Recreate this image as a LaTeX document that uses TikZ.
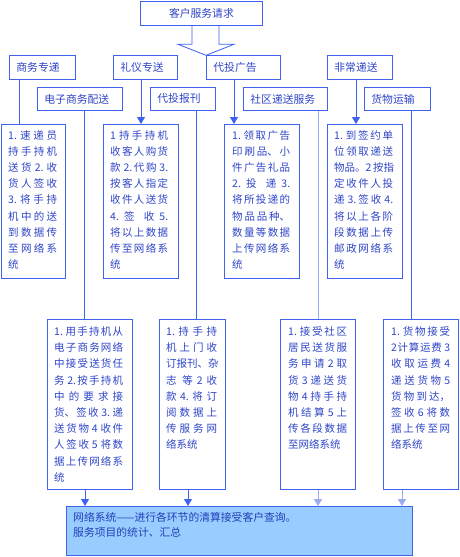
\documentclass[tikz,border=0pt]{standalone}
\usepackage{fontspec}
\setmainfont{Noto Sans CJK SC}
\usetikzlibrary{arrows.meta}
\XeTeXlinebreaklocale "zh"
\XeTeXlinebreakskip=0pt plus 4pt
\XeTeXlinebreakpenalty=10000
\tolerance=10000 \hbadness=10000 \hfuzz=30pt
\definecolor{lineblue}{HTML}{3F63F0}
\definecolor{lightline}{HTML}{99AAF0}
\definecolor{txtblue}{HTML}{2F45C8}
\definecolor{botfill}{HTML}{99CCFF}
\definecolor{bottxt}{HTML}{2040B8}
\begin{document}
\begin{tikzpicture}[x=1pt,y=-1pt,
  frame/.style={draw=lineblue, line width=0.8pt, inner sep=0pt, anchor=north west},
  lab/.style={frame, text=txtblue, font=\fontsize{10.8}{13}\selectfont, inner xsep=7pt, align=left},
  txt/.style={inner sep=0pt, anchor=north west, text=txtblue, align=justify, font=\fontsize{10.5}{16.2}\selectfont},
  conn/.style={draw=lineblue, line width=0.8pt},
  arr/.style={conn, -{Triangle[length=7pt,width=8pt]}}]
\useasboundingbox (0,0) rectangle (460,557);
\fill[white] (0,0) rectangle (460,557);
% top
\node[frame, minimum width=122, minimum height=24, text=txtblue, font=\fontsize{10.8}{13}\selectfont] (top) at (140,0.5) {客户服务请求};
\draw[conn] ([xshift=52]top.south west) -- ++(0,19) -- ++(-14,0) -- ++(28,11) -- ++(28,-11) -- ++(-15,0) -- ([xshift=79]top.south west);
% row 1
\node[lab, minimum height=24, text width=52] (n1) at (9,55) {商务专递};
\node[lab, minimum height=24, text width=50] (n2) at (113,55) {礼仪专送};
\node[lab, minimum height=24, text width=60] (n3) at (206,55) {代投广告};
\node[lab, minimum height=24, text width=51] (n4) at (327,55) {非常递送};
% row 2
\node[lab, minimum height=23, text width=71] (m1) at (37,87) {电子商务配送};
\node[lab, minimum height=23, text width=51] (m2) at (150,87) {代投报刊};
\node[lab, minimum height=23, text width=70] (m3) at (243,87) {社区递送服务};
\node[lab, minimum height=23, text width=52] (m4) at (364,87) {货物运输};
% detail boxes row 2
\node[frame, minimum width=64, minimum height=154] (b1) at (1,124) {};
\node[frame, minimum width=75, minimum height=154] (b2) at (103,124) {};
\node[frame, minimum width=75, minimum height=154] (b3) at (224,124) {};
\node[frame, minimum width=75, minimum height=154] (b4) at (327,124) {};
\node[txt, text width=49] (b1t) at ([shift={(7,6)}]b1.north west) {1.~速递员\break 持手持机\break 送货~2.~收\break 货人签收\break 3.~将手持\break 机中的送\break 到数据传\break 至网络系\break 统};
\node[txt, text width=58] (b2t) at ([shift={(7,6)}]b2.north west) {1~持手持机\break 收客人购货\break 款~2.代购~3.\break 按客人指定\break 收件人送货\break 4.~签收~5.\break 将以上数据\break 传至网络系\break 统};
\node[txt, text width=58] (b3t) at ([shift={(8,6)}]b3.north west) {1.~领取广告\break 印刷品、小\break 件广告礼品\break 2.~投递~3.\break 将所投递的\break 物品品种、\break 数量等数据\break 上传网络系\break 统};
\node[txt, text width=59] (b4t) at ([shift={(7,6)}]b4.north west) {1.~到签约单\break 位领取递送\break 物品。2~按指\break 定收件人投\break 递~3.签收~4.\break 将以上各阶\break 段数据上传\break 邮政网络系\break 统};
% detail boxes row 3
\node[frame, minimum width=85, minimum height=170] (c1) at (47,319) {};
\node[frame, minimum width=66, minimum height=170] (c2) at (159,319) {};
\node[frame, minimum width=75, minimum height=170] (c3) at (280,319) {};
\node[frame, minimum width=75, minimum height=170] (c4) at (383,319) {};
\node[txt, text width=69] (c1t) at ([shift={(7,7.5)}]c1.north west) {1.~用手持机从\break 电子商务网络\break 中接受送货任\break 务~2.按手持机\break 中的要求接\break 货、签收~3.~递\break 送货物~4~收件\break 人签收~5~将数\break 据上传网络系\break 统};
\node[txt, text width=51] (c2t) at ([shift={(7,7.5)}]c2.north west) {1.~持手持\break 机上门收\break 订报刊、杂\break 志等~2~收\break 款~4.~将订\break 阅数据上\break 传服务网\break 络系统};
\node[txt, text width=59] (c3t) at ([shift={(8,7.5)}]c3.north west) {1.~接受社区\break 居民送货服\break 务申请~2~取\break 货~3~递送货\break 物~4~持手持\break 机结算~5~上\break 传各段数据\break 至网络系统};
\node[txt, text width=59] (c4t) at ([shift={(8,7.5)}]c4.north west) {1.~货物接受\break 2计算运费~3\break 收取运费~4\break 递送货物~5\break 货物到达，\break 签收~6~将数\break 据上传至网\break 络系统};
% bottom
\node[frame, fill=botfill, minimum width=346, minimum height=49] (bot) at (66,506) {};
\node[inner sep=0pt, anchor=north west, align=left, text=bottxt, font=\fontsize{10.8}{15}\selectfont] (bott) at ([shift={(7,6.5)}]bot.north west) {网络系统——进行各环节的清算接受客户查询。\\服务项目的统计、汇总};
% connectors row1 -> detail
\draw[conn] ([xshift=10]n1.south west) coordinate (p1) -- (p1 |- b1.north);
\draw[arr] ([xshift=28]n2.south west) coordinate (p2) -- (p2 |- b2.north);
\draw[arr] ([xshift=28]n3.south west) coordinate (p3) -- (p3 |- b3.north);
\draw[arr] ([xshift=29]n4.south west) coordinate (p4) -- (p4 |- b4.north);
% row2 -> row3
\draw[conn] ([xshift=47]m1.south west) coordinate (q1) -- (q1 |- c1.north);
\draw[conn] ([xshift=46]m2.south west) coordinate (q2) -- (q2 |- c2.north);
\draw[conn, draw=lightline] ([xshift=75]m3.south west) coordinate (q3) -- (q3 |- c3.north);
\draw[conn] ([xshift=47]m4.south west) coordinate (q4) -- (q4 |- c4.north);
% row3 -> bottom
\draw[arr] ([xshift=38]c1.south west) coordinate (r1) -- (r1 |- bot.north);
\draw[arr] ([xshift=29]c2.south west) coordinate (r2) -- (r2 |- bot.north);
\draw[arr, draw=lightline, fill=lineblue] ([xshift=38]c3.south west) coordinate (r3) -- (r3 |- bot.north);
\draw[arr, draw=lightline, fill=lineblue] ([xshift=19]c4.south west) coordinate (r4) -- (r4 |- bot.north);
\end{tikzpicture}
\end{document}
